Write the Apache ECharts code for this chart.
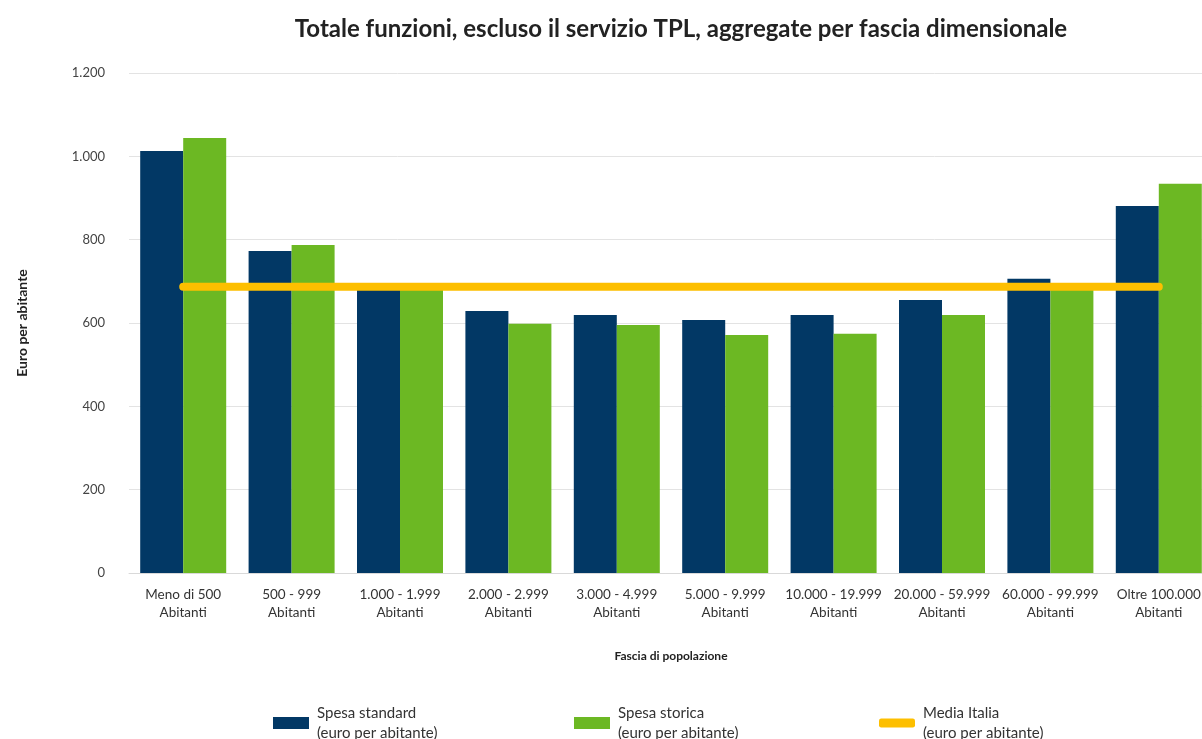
<!DOCTYPE html>
<html>
<head>
<meta charset="utf-8">
<script src="https://cdn.jsdelivr.net/npm/echarts@6/dist/echarts.min.js"></script>
<style>
  html, body { margin: 0; padding: 0; background: #fff; }
  #chart { width: 1202px; height: 739px; }
</style>
</head>
<body>
<div id="chart"></div>
<script>
// categorie (fasce di popolazione)
const categories = [
  'Meno di 500\nAbitanti', '500 - 999\nAbitanti', '1.000 - 1.999\nAbitanti',
  '2.000 - 2.999\nAbitanti', '3.000 - 4.999\nAbitanti', '5.000 - 9.999\nAbitanti',
  '10.000 - 19.999\nAbitanti', '20.000 - 59.999\nAbitanti', '60.000 - 99.999\nAbitanti',
  'Oltre 100.000\nAbitanti'
]
// euro per abitante
const spesaStandard = [1013, 773, 690, 629, 619, 607, 619, 655, 706, 881]
const spesaStorica = [1044, 787, 688, 598, 595, 571, 574, 619, 685, 934]
const mediaItalia = [687, 687, 687, 687, 687, 687, 687, 687, 687, 687]
const yTicks = [0, 200, 400, 600, 800, 1000, 1200]

const font = 'Lato, "Open Sans", sans-serif'
const navy = '#023865'
const green = '#6cb823'
const yellow = '#fdbf00'

const chart = echarts.init(document.getElementById('chart'))

function fmtNum (v) {
  // separatore migliaia all'italiana
  return String(v).replace(/\B(?=(\d{3})+(?!\d))/g, '.')
}

function legendAt (left, name, icon) {
  return {
    data: [name],
    left: left,
    top: 698,
    icon: icon,
    itemWidth: 36,
    itemHeight: icon === 'roundRect' ? 9 : 12,
    textStyle: { fontFamily: font, fontSize: 15, color: '#333', lineHeight: 20, padding: [0, 0, 0, 3] },
    selectedMode: false
  }
}

const option = {
  animation: false,
  title: {
    text: 'Totale funzioni, escluso il servizio TPL, aggregate per fascia dimensionale',
    left: 676,
    textAlign: 'center',
    top: 12,
    textStyle: { fontFamily: font, fontSize: 24, fontWeight: 'bold', color: '#222' }
  },
  legend: [
    legendAt(268, 'Spesa standard\n(euro per abitante)', 'rect'),
    legendAt(569, 'Spesa storica\n(euro per abitante)', 'rect'),
    legendAt(874, 'Media Italia\n(euro per abitante)', 'roundRect')
  ],
  grid: { left: 129, top: 73, width: 1084, height: 500, outerBoundsMode: 'none' },
  xAxis: {
    type: 'category',
    data: categories,
    name: 'Fascia di popolazione',
    nameLocation: 'middle',
    nameGap: 77,
    nameTextStyle: { fontFamily: font, fontSize: 12, fontWeight: 'bold', color: '#222' },
    axisLine: { show: true, lineStyle: { color: '#d9d9d9' } },
    axisTick: { show: false },
    axisLabel: { fontFamily: font, fontSize: 13.5, color: '#333', margin: 13, lineHeight: 18, interval: 0 }
  },
  yAxis: {
    type: 'value',
    min: yTicks[0],
    max: yTicks[yTicks.length - 1],
    interval: 200,
    name: 'Euro per abitante',
    nameLocation: 'middle',
    nameGap: 100,
    nameTextStyle: { fontFamily: font, fontSize: 14, fontWeight: 'bold', color: '#222' },
    axisLine: { show: false },
    axisTick: { show: false },
    axisLabel: { fontFamily: font, fontSize: 13, color: '#444', margin: 24, formatter: fmtNum },
    splitLine: { lineStyle: { color: '#e3e3e3', width: 1 } }
  },
  series: [
    {
      name: 'Spesa standard\n(euro per abitante)',
      type: 'bar',
      data: spesaStandard,
      itemStyle: { color: navy },
      barWidth: 43,
      barGap: '0%'
    },
    {
      name: 'Spesa storica\n(euro per abitante)',
      type: 'bar',
      data: spesaStorica,
      itemStyle: { color: green },
      barWidth: 43,
      barGap: '0%'
    },
    {
      name: 'Media Italia\n(euro per abitante)',
      type: 'line',
      data: mediaItalia,
      symbol: 'none',
      z: 5,
      itemStyle: { color: yellow },
      lineStyle: { color: yellow, width: 8, cap: 'round' }
    }
  ]
}

chart.setOption(option)
</script>
</body>
</html>
